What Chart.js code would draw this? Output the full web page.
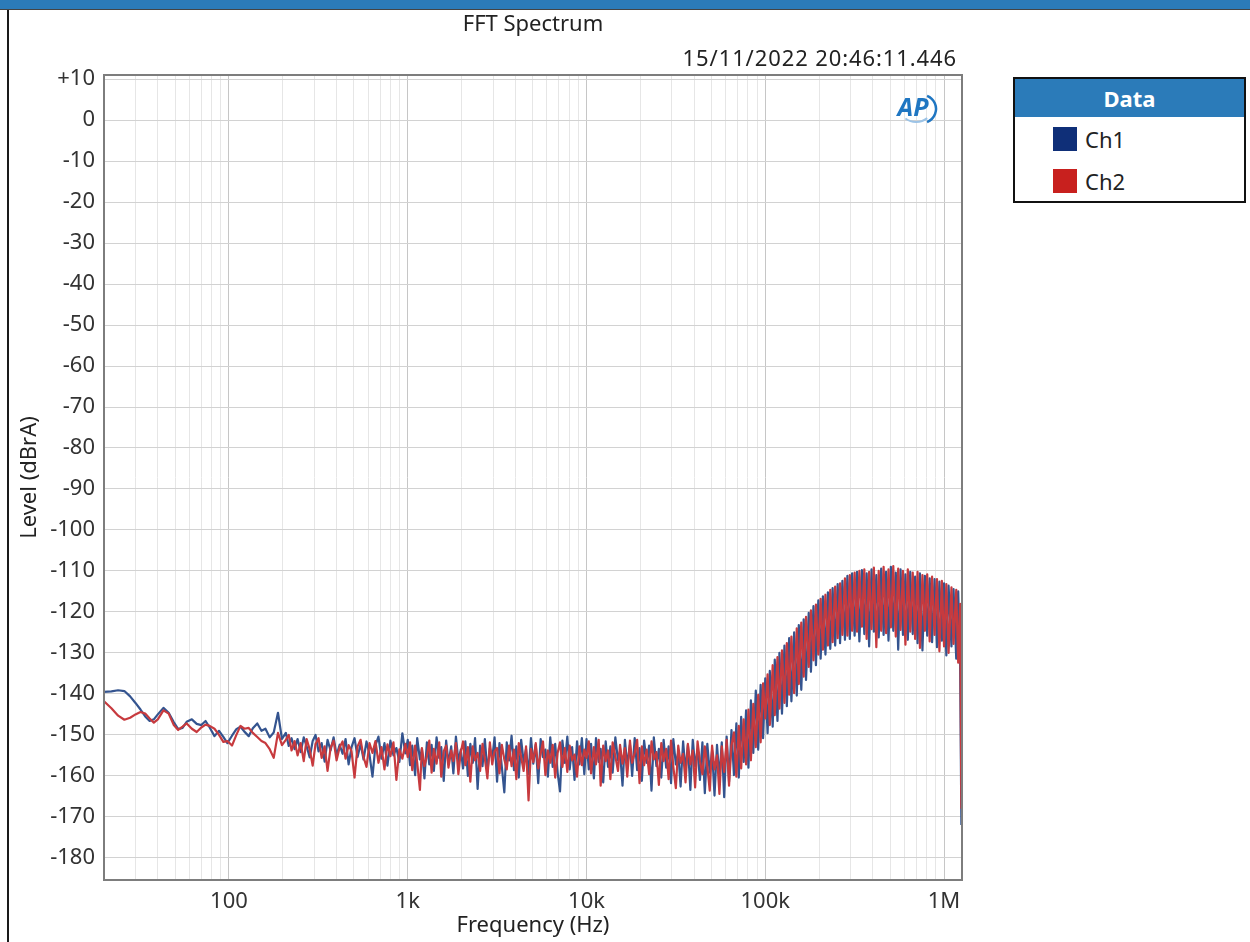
<!DOCTYPE html>
<html>
<head>
<meta charset="utf-8">
<title>FFT Spectrum</title>
<script src="https://cdn.jsdelivr.net/npm/chart.js@4.4.1/dist/chart.umd.min.js"></script>
<style>
  body { margin: 0; background: #fff; font-family: "Noto Sans", sans-serif; }
  #page { position: relative; width: 1250px; height: 942px; overflow: hidden; }
  #topbar { position: absolute; left: 0; top: 0; width: 1250px; height: 9px; background: #2b7bb9; border-bottom: 1px solid #444; }
  #leftline { position: absolute; left: 7px; top: 10px; width: 2px; height: 932px; background: #1a1a1a; }
  #wrap { position: absolute; left: 0; top: 0; width: 1000px; height: 942px; }
  #title { position: absolute; left: 533px; top: 8px; transform: translateX(-50%); font-size: 22px; line-height: 28px; color: #222; white-space: nowrap; }
  #stamp { position: absolute; right: 293px; top: 43px; font-size: 22px; line-height: 28px; letter-spacing: 0.9px; color: #222; white-space: nowrap; }
  #legend { position: absolute; left: 1013px; top: 77px; width: 229px; height: 122px; border: 2px solid #111; background: #fff; }
  #legend .hdr { height: 38px; line-height: 38px; background: #2b7bb9; color: #fff; font-weight: bold; font-size: 22px; text-align: center; }
  #legend .row { position: absolute; left: 38px; height: 24px; font-size: 22px; line-height: 24px; color: #222; }
  #legend .sw { display: inline-block; width: 24px; height: 24px; vertical-align: top; margin-right: 8px; }
</style>
</head>
<body>
<div id="page">
  <div id="topbar"></div>
  <div id="leftline"></div>
  <div id="wrap"><canvas id="chart" width="1000" height="942"></canvas></div>
  <div id="title">FFT Spectrum</div>
  <div id="stamp">15/11/2022 20:46:11.446</div>
  <div id="legend">
    <div class="hdr">Data</div>
    <div class="row" style="top:48px"><span class="sw" style="background:#0f2f78"></span>Ch1</div>
    <div class="row" style="top:90px"><span class="sw" style="background:#c8201e"></span>Ch2</div>
  </div>
</div>
<script>
// Frequencies (Hz) of the plotted points
const freqHz = [
  20, 22, 24, 26, 28, 30, 32, 34, 36, 38,
  40, 43, 46, 49, 52, 55, 58, 62, 66, 70,
  74, 78, 83, 88, 93, 98, 104, 110, 116, 122,
  129, 136, 144, 152, 160, 169, 178, 188, 198,
  208, 216, 224, 233, 242, 252, 262, 272, 283, 294,
  305, 317, 330, 343, 356, 370, 385, 400, 416, 432,
  449, 467, 485, 504, 524, 545, 566, 588, 611, 635,
  660, 686, 713, 741, 770, 800, 832, 864, 898, 933,
  970,
  1000, 1030, 1060, 1100, 1130, 1170, 1200, 1240, 1280, 1320,
  1360, 1400, 1450, 1500, 1540, 1590, 1640, 1690, 1750, 1800,
  1860, 1920, 1980, 2040, 2100, 2170, 2240, 2310, 2380, 2460,
  2540, 2620, 2700, 2790, 2880, 2970, 3060, 3160, 3260, 3360,
  3470, 3580, 3690, 3810, 3930, 4050, 4180, 4310, 4450, 4590,
  4740, 4890, 5040, 5200, 5370, 5540, 5710, 5890, 6080, 6270,
  6470, 6680, 6890, 7110, 7330, 7570, 7810, 8050, 8310, 8570,
  8850, 9130, 9420, 9720,
  10000, 10300, 10600, 11000, 11300, 11700, 12000, 12400, 12800, 13200,
  13600, 14000, 14500, 15000, 15400, 15900, 16400, 16900, 17500, 18000,
  18600, 19200, 19800, 20400, 21000, 21700, 22400, 23100, 23800, 24600,
  25400, 26200, 27000, 27900, 28800, 29700, 30600, 31600, 32600, 33600,
  34700, 35800, 36900, 38100, 39300, 40500, 41800, 43100, 44500, 45900,
  47400, 48900, 50400, 52000, 53700, 55400, 57100, 58900, 60800, 62700,
  64700, 66800, 68900, 71100, 73300, 75700, 78100, 80500, 83100, 85700,
  88500, 91300, 94200, 97200,
  100000, 103000, 106000, 110000, 113000, 117000, 120000, 124000, 128000, 132000,
  136000, 140000, 145000, 150000, 154000, 159000, 164000, 169000, 175000, 180000,
  186000, 192000, 198000, 204000, 210000, 217000, 224000, 231000, 238000, 246000,
  254000, 262000, 270000, 279000, 288000, 297000, 306000, 316000, 326000, 336000,
  347000, 358000, 369000, 381000, 393000, 405000, 418000, 431000, 445000, 459000,
  474000, 489000, 504000, 520000, 537000, 554000, 571000, 589000, 608000, 627000,
  647000, 668000, 689000, 711000, 733000, 757000, 781000, 805000, 831000, 857000,
  885000, 913000, 942000, 972000,
  1000000, 1030000, 1060000, 1100000, 1130000, 1170000, 1200000, 1230000, 1250000
];

// Ch1 level (dBrA)
const ch1 = [
  -139.5, -139.4, -139.1, -139.3, -140.6, -142.2, -143.8, -145.5, -146.6, -146.2,
  -145, -143.4, -144.6, -146.8, -148.6, -148.3, -146.8, -146.2, -147.3, -147.6,
  -146.6, -148.2, -150.3, -149, -150.5, -152, -150.2, -148.6, -148, -149.2,
  -150.3, -148.4, -147.2, -149, -148.5, -150.6, -149.4, -144.6, -151,
  -149.5, -152.7, -150.8, -153.5, -151, -154.2, -150.6, -152.8, -155.5, -151.5,
  -150, -154, -152, -156.5, -151.2, -153.8, -150.6, -155, -152.4, -154.6,
  -151, -157.2, -153, -150.8, -155.4, -152.2, -156, -151.6, -154.8, -160.2,
  -152.5, -150.4, -155.8, -152, -157.5, -151.4, -155, -153.2, -156.6, -149.6,
  -154.5,
  -151.2, -157.4, -152.6, -159.8, -150.8, -156, -153.4, -160.6, -151.8, -157.2,
  -152.4, -158.8, -150.6, -155.6, -153, -161.2, -151.4, -157, -152.8, -159.4,
  -150.4, -156.4, -153.6, -158.2, -151.6, -160, -152.2, -156.8, -150.8, -163.2,
  -152.6, -157.6, -151, -159, -153.2, -155.8, -150.6, -161.4, -152, -157.8,
  -164, -151.8, -156.2, -150.2, -158.6, -152.8, -160.4, -151.2, -156.6, -153.4,
  -159.6, -150.8, -157, -152.4, -161.8, -151, -155.4, -153.6, -160.2, -150.6,
  -157.8, -152.2, -159.2, -163.8, -151.4, -156.8, -150.4, -158.4, -153, -161,
  -151.6, -157.2, -150.8, -159.6,
  -151, -158.4, -152.2, -160.6, -150.8, -156.6, -153.4, -161.6, -151.6, -157.8,
  -152.8, -159.2, -150.6, -156.2, -154, -162.4, -151.2, -157.4, -152.4, -160,
  -150.8, -158.6, -153.2, -161.2, -151.4, -156.8, -152.6, -163.6, -150.6, -157.6,
  -153.4, -160.4, -151.2, -158, -152.8, -161.8, -151, -157.2, -154.2, -162.6,
  -151.6, -158.8, -152.4, -163.4, -151.2, -157.6, -153.6, -161, -151.8, -164.2,
  -152.2, -159.2, -153.8, -164.8, -152.4, -160.6, -151.8, -165.2, -150.4, -161.4,
  -148.8, -159.8, -147.2, -160.4, -145.6, -156.6, -144, -158, -141.6, -154.4,
  -139.2, -153.6, -137.8, -150.8,
  -136.2, -149.6, -134.4, -148, -131.6, -146.6, -130, -144.8, -128.2, -143,
  -126.4, -141.8, -125, -140.4, -123.2, -139, -121.8, -136.6, -120.2, -134.6,
  -118.6, -133, -117.2, -131.4, -116.2, -130.4, -115.2, -129, -114.2, -128.2,
  -113.2, -127.6, -112.4, -126.8, -111.2, -126.6, -110.6, -125.8, -110.2, -127.2,
  -109.8, -125.4, -110.6, -128.4, -109.6, -124.8, -111, -126.2, -109.4, -125.6,
  -110.2, -127, -109, -124.6, -110.4, -129.2, -109.6, -125.6, -110.8, -126.8,
  -110.2, -125.4, -111.4, -127.6, -110.6, -129.4, -111.2, -125.8, -111.8, -127.4,
  -112, -128.6, -112.6, -127,
  -113, -130.6, -113.6, -128.4, -114.4, -131.4, -115, -133, -172
];

// Ch2 level (dBrA)
const ch2 = [
  -141.8, -143.5, -145.3, -146.3, -145.8, -145, -144.4, -144.8, -146, -147,
  -146.2, -144, -144.8, -147.5, -148.8, -148, -147.2, -148.5, -149.3, -148.2,
  -147.5, -147.8, -148.5, -150, -151.7, -151.5, -152.6, -150, -147.8, -148.5,
  -148.3, -149.5, -150.5, -151.5, -152, -153.5, -155.6, -149.5, -152.5,
  -151.2, -150, -153.8, -151.5, -155, -152, -156.4, -151, -153.6, -157.5,
  -152.2, -150.8, -155.6, -152.8, -158.8, -153.2, -151.4, -156.2, -153, -151.6,
  -155.8, -152.5, -154, -160.4, -152.8, -151.2, -155.4, -157.8, -152, -154.4,
  -151.5, -156.8, -153, -158.4, -152.3, -155.2, -151.8, -161, -153.5, -155.8,
  -152.2,
  -155.4, -151.8, -158.6, -152.6, -156.8, -163.4, -153.2, -157.6, -155.2, -151.4,
  -159.2, -153.4, -157, -151.8, -160.2, -154, -152.6, -158, -153.8, -156.4,
  -152, -159.6, -154.2, -151.6, -157.4, -153, -161.4, -152.8, -156.2, -154.4,
  -158.8, -152.2, -155.8, -160.6, -151.8, -157.2, -154, -153.2, -159.4, -152.4,
  -156, -158.4, -152.6, -157.6, -153.6, -160.8, -152, -155.4, -158.8, -152.8,
  -166, -153.4, -156.6, -152, -158.2, -154.6, -151.6, -159.8, -153.8, -156.8,
  -152.4, -160.4, -154.4, -151.8, -157.8, -153.2, -159, -152.6, -156.2, -154.8,
  -160.2, -152.8, -157.4, -153.6,
  -155.6, -151.6, -159.4, -153, -157.2, -151.2, -162.4, -152.6, -156.4, -153.8,
  -160.8, -151.8, -155.2, -158.8, -152.4, -157, -153.2, -160.2, -151.4, -156.8,
  -154.4, -151.2, -161.8, -152.8, -157.4, -153.6, -159.6, -151.6, -156, -154.2,
  -162.2, -152, -156.4, -153.4, -160.8, -151.4, -157.8, -163, -152.6, -156.8,
  -154.6, -161.6, -152.2, -157.2, -153.8, -162.8, -151.6, -156.4, -159.6, -152.8,
  -157.6, -163.6, -152.6, -158.4, -155, -164.4, -152.8, -159, -151.2, -162.4,
  -152.6, -149.4, -160.2, -147.8, -158.2, -146.2, -157.2, -143.8, -156.2, -142.4,
  -153, -140.2, -151.8, -137.4,
  -146, -135.2, -147.6, -133, -145.2, -131, -143.6, -129.4, -142.2, -127.6,
  -140.2, -126, -139.8, -124, -137.6, -122.6, -135.8, -121.2, -133.4, -119.6,
  -131.8, -118.2, -130.4, -116.8, -129.2, -115.8, -128.2, -114.6, -127.4, -113.8,
  -126.4, -113, -125.6, -111.8, -125.8, -111, -124.6, -110.4, -124.8, -110,
  -123.6, -109.6, -126.6, -110.2, -124.2, -109.2, -128.6, -110, -124.6, -109,
  -125.2, -109.6, -123.8, -108.8, -126, -109.4, -124.4, -110, -128, -109.6,
  -124.8, -110.4, -126.6, -110.2, -128.8, -111, -124.6, -110.8, -127.2, -111.4,
  -125.6, -112, -129.6, -112.4,
  -128.4, -113.2, -130, -114, -127.8, -114.6, -132.4, -118, -168
];

// Axis ticks
const yTicks = [10, 0, -10, -20, -30, -40, -50, -60, -70, -80, -90, -100,
  -110, -120, -130, -140, -150, -160, -170, -180];
const xGrid = [20, 30, 40, 50, 60, 70, 80, 90,
  100, 200, 300, 400, 500, 600, 700, 800, 900,
  1000, 2000, 3000, 4000, 5000, 6000, 7000, 8000, 9000,
  10000, 20000, 30000, 40000, 50000, 60000, 70000, 80000, 90000,
  100000, 200000, 300000, 400000, 500000, 600000, 700000, 800000, 900000,
  1000000];
const xMajor = [100, 1000, 10000, 100000, 1000000];
const xLabels = ["100", "1k", "10k", "100k", "1M"];

const FONT = "'Noto Sans', sans-serif";

const toPoints = (vals) => freqHz.map((f, i) => ({ x: f, y: vals[i] }));

// plot frame and the AP logo
const framePlugin = {
  id: "frame",
  afterDraw(chart) {
    const { ctx, chartArea: a } = chart;
    ctx.save();
    ctx.strokeStyle = "#7d7d7d";
    ctx.lineWidth = 2;
    ctx.strokeRect(a.left, a.top, a.right - a.left, a.bottom - a.top);

    ctx.font = "italic bold 25px " + FONT;
    ctx.fillStyle = "#1f76c2";
    ctx.textAlign = "center";
    ctx.textBaseline = "middle";
    ctx.fillText("AP", 913, 109);
    ctx.strokeStyle = "#1f76c2";
    ctx.lineWidth = 2.5;
    ctx.beginPath();
    ctx.arc(922, 109, 14, -1.2, 1.2);
    ctx.stroke();
    ctx.strokeStyle = "#9cc3e6";
    ctx.lineWidth = 2;
    ctx.beginPath();
    ctx.arc(916, 104, 18, 0.9, 2.2);
    ctx.stroke();
    ctx.restore();
  }
};

new Chart(document.getElementById("chart"), {
  type: "line",
  plugins: [framePlugin],
  data: {
    datasets: [
      { label: "Ch1", data: toPoints(ch1), borderColor: "#34548f", borderWidth: 2.2, order: 2 },
      { label: "Ch2", data: toPoints(ch2), borderColor: "#c73a3e", borderWidth: 2.2, order: 1 }
    ]
  },
  options: {
    responsive: false,
    animation: false,
    layout: { padding: { left: 0, right: 38, top: 75, bottom: 0 } },
    elements: { point: { radius: 0 }, line: { tension: 0, borderJoinStyle: "round" } },
    plugins: { legend: { display: false }, tooltip: { enabled: false } },
    scales: {
      x: {
        type: "logarithmic",
        min: 20,
        max: 1260000,
        afterBuildTicks: (axis) => { axis.ticks = xGrid.map(v => ({ value: v })); },
        afterFit: (axis) => { axis.height = 62; },
        border: { display: false },
        grid: {
          drawTicks: false,
          color: (ctx) => (ctx.tick && xMajor.includes(ctx.tick.value) ? "#c6c6c6" : "#e6e6e6")
        },
        ticks: {
          autoSkip: false,
          maxRotation: 0,
          padding: 9,
          color: "#333",
          font: { family: FONT, size: 22 },
          callback: (v) => {
            const i = xMajor.indexOf(v);
            return i >= 0 ? xLabels[i] : "";
          }
        },
        title: {
          display: true,
          text: "Frequency (Hz)",
          color: "#222",
          font: { family: FONT, size: 22 },
          padding: { top: 0, bottom: 3 }
        }
      },
      y: {
        min: -185.4,
        max: 11,
        afterBuildTicks: (axis) => { axis.ticks = yTicks.map(v => ({ value: v })); },
        afterFit: (axis) => { axis.width = 104; },
        border: { display: false },
        grid: { drawTicks: false, color: "#d2d2d2" },
        ticks: {
          padding: 9,
          color: "#333",
          font: { family: FONT, size: 22 },
          callback: (v) => (v > 0 ? "+" + v : String(v))
        },
        title: {
          display: true,
          text: "Level (dBrA)",
          color: "#222",
          font: { family: FONT, size: 22 },
          padding: { top: 17, bottom: 0 }
        }
      }
    }
  }
});
</script>
</body>
</html>
